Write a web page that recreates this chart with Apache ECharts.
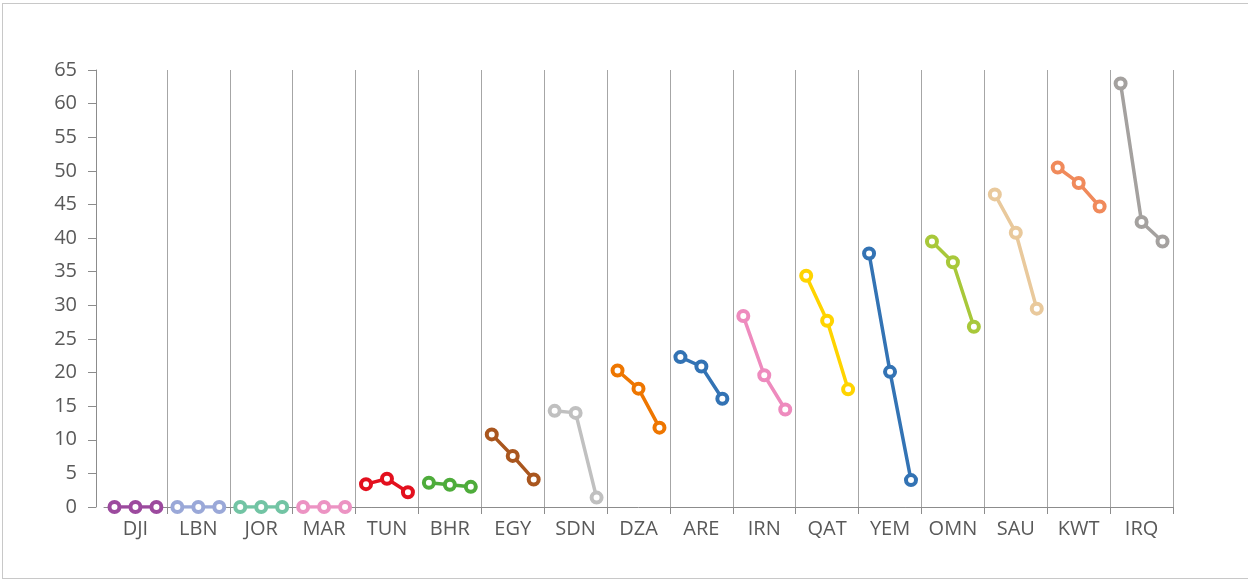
<!DOCTYPE html>
<html>
<head>
<meta charset="utf-8">
<script src="https://cdn.jsdelivr.net/npm/echarts@6/dist/echarts.min.js"></script>
<style>
html, body { margin: 0; padding: 0; background: #fff; overflow: hidden; }
#frame { position: absolute; left: 2px; top: 3px; width: 1300px; height: 574px; border: 1px solid #c8c8c8; }
#chart { position: absolute; left: 0; top: 0; width: 1248px; height: 581px; }
</style>
</head>
<body>
<div id="frame"></div>
<div id="chart"></div>
<script>
// groups along the x axis
var categories = ['DJI','LBN','JOR','MAR','TUN','BHR','EGY','SDN','DZA','ARE','IRN','QAT','YEM','OMN','SAU','KWT','IRQ'];
// three readings per group, in order
var firstVal  = [0, 0, 0, 0, 3.4, 3.6, 10.8, 14.3, 20.3, 22.3, 28.4, 34.4, 37.7, 39.5, 46.5, 50.5, 63.0];
var secondVal = [0, 0, 0, 0, 4.2, 3.3, 7.6, 14.0, 17.6, 20.9, 19.6, 27.7, 20.1, 36.4, 40.8, 48.2, 42.4];
var thirdVal  = [0, 0, 0, 0, 2.2, 3.0, 4.1, 1.4, 11.8, 16.1, 14.5, 17.5, 4.0, 26.8, 29.5, 44.7, 39.5];
var colors = ['#9C4A9E','#9AA8D8','#72C4A4','#EC93C3','#E3101E','#4EAC3B','#A9561E','#C0C0C0','#EE7600','#3373B4','#EE8BBE','#FFD400','#3373B4','#A8C83A','#E9C99C','#F08A5B','#A4A19F'];
var yTicks = { min: 0, max: 65, step: 5 };

var slots = [];
for (var i = 0; i < categories.length; i++) {
	slots.push(categories[i] + '#1', categories[i] + '#2', categories[i] + '#3');
}

var series = categories.map(function (name, g) {
	var data = slots.map(function () { return null; });
	data[g * 3] = firstVal[g];
	data[g * 3 + 1] = secondVal[g];
	data[g * 3 + 2] = thirdVal[g];
	return {
		name: name,
		type: 'line',
		data: data,
		symbol: 'circle',
		symbolSize: 10,
		showSymbol: true,
		connectNulls: false,
		lineStyle: { color: colors[g], width: 3.5 },
		itemStyle: { color: '#fff', borderColor: colors[g], borderWidth: 4 },
		z: 3
	};
});

var myChart = echarts.init(document.getElementById('chart'));
var option = {
	animation: false,
	grid: { left: 104, right: 75, top: 70, bottom: 74, containLabel: false },
	xAxis: {
		type: 'category',
		boundaryGap: true,
		data: slots,
		axisLine: { show: true, lineStyle: { color: '#8c8c8c', width: 1 } },
		axisTick: {
			show: true,
			length: 7,
			interval: function (idx) { return idx > 0 && idx % 3 === 0; },
			lineStyle: { color: '#8c8c8c' }
		},
		splitLine: {
			show: true,
			interval: function (idx) { return idx > 0 && idx % 3 === 0; },
			lineStyle: { color: '#a6a6a6', width: 1 }
		},
		axisLabel: {
			interval: function (idx) { return idx % 3 === 1; },
			formatter: function (v) { return v.split('#')[0]; },
			color: '#595959',
			fontFamily: 'Open Sans',
			fontSize: 20,
			margin: 12
		}
	},
	yAxis: {
		type: 'value',
		min: yTicks.min,
		max: yTicks.max,
		interval: yTicks.step,
		offset: 8,
		axisLine: { show: true, lineStyle: { color: '#8c8c8c', width: 1 } },
		axisTick: { show: true, length: 8, lineStyle: { color: '#8c8c8c' } },
		splitLine: { show: false },
		axisLabel: {
			color: '#595959',
			fontFamily: 'Open Sans',
			fontSize: 20,
			margin: 19
		}
	},
	series: series
};
myChart.setOption(option);
</script>
</body>
</html>
